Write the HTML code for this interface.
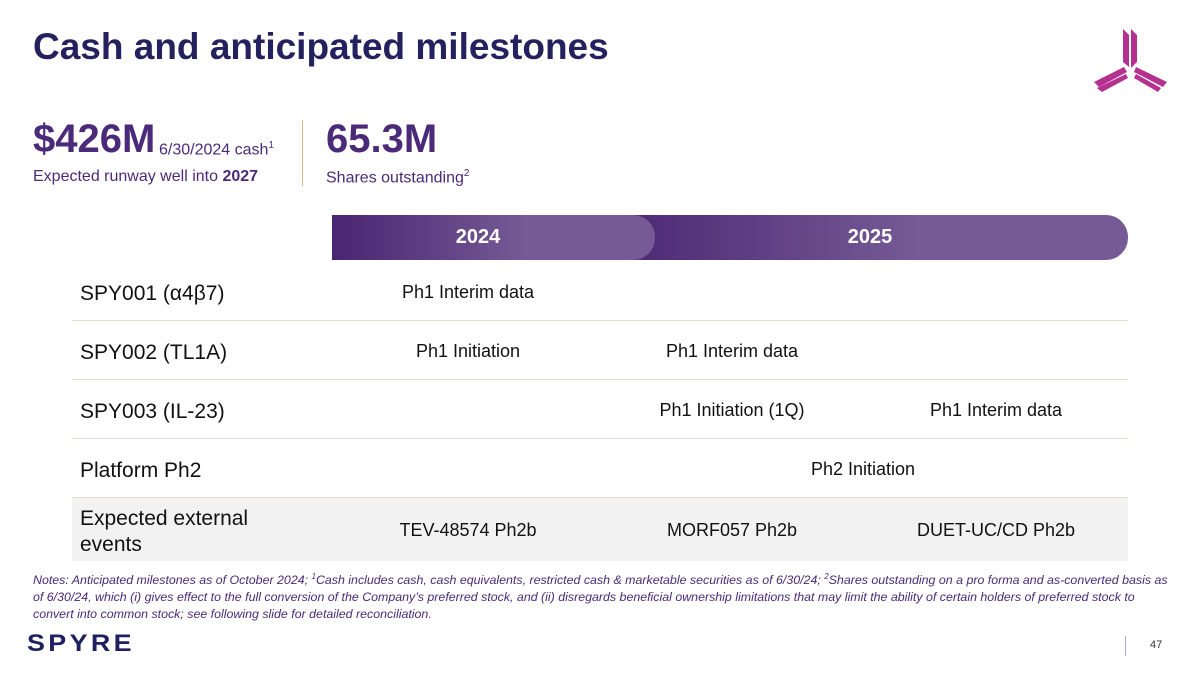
<!DOCTYPE html>
<html><head><meta charset="utf-8"><style>
body{margin:0;width:1200px;height:675px;position:relative;overflow:hidden;background:#fff;font-family:"Liberation Sans",sans-serif;}
.a{position:absolute;white-space:nowrap;}
.lbl{font-size:21px;color:#111;left:80px;}
.c{font-size:18px;color:#111;transform:translateX(-50%);}
.sep{position:absolute;left:72px;width:1056px;height:1px;background:#e6dcc9;}
</style></head><body>
<div class="a" style="left:33px;top:26px;font-size:37px;font-weight:bold;color:#25215e;">Cash and anticipated milestones</div>
<svg class="a" style="left:1090px;top:25px" width="82" height="68" viewBox="0 0 82 68">
<g fill="#b5318f">
<polygon points="33,4 39,10 39,42 33,37"/><polygon points="41,4 47,10 47,37 41,43"/>
<polygon points="4,57 34,42 37,47 9,62"/>
<polygon points="7,63 36,49 38,53 12,67"/>
<polygon points="46,42 77,57 73,62 44,47"/>
<polygon points="44,53 46,49 71,63 68,67"/>
</g></svg>
<div class="a" style="left:33px;top:117px;font-size:40px;font-weight:bold;color:#4a2a79;">$426M</div>
<div class="a" style="left:159px;top:140px;font-size:16px;color:#4a2a79;">6/30/2024 cash<sup style="font-size:10px">1</sup></div>
<div class="a" style="left:33px;top:168px;font-size:16px;color:#4a2a79;">Expected runway well into <b>2027</b></div>
<div class="a" style="left:302px;top:120px;width:1px;height:66px;background:#d9b98a;"></div>
<div class="a" style="left:326px;top:117px;font-size:40px;font-weight:bold;color:#4a2a79;">65.3M</div>
<div class="a" style="left:326px;top:168px;font-size:16px;color:#4a2a79;">Shares outstanding<sup style="font-size:10px">2</sup></div>
<div class="a" style="left:600px;top:215px;width:528px;height:45px;border-radius:0 22px 22px 0;background:linear-gradient(90deg,#4a2572,#755a95 60%);"></div>
<div class="a" style="left:332px;top:215px;width:323px;height:45px;border-radius:0 22px 22px 0;background:linear-gradient(90deg,#4a2572,#755a95 60%);"></div>
<div class="a" style="left:478px;top:226px;font-size:20px;font-weight:bold;color:#fff;transform:translateX(-50%)">2024</div>
<div class="a" style="left:870px;top:226px;font-size:20px;font-weight:bold;color:#fff;transform:translateX(-50%)">2025</div>
<div class="sep" style="top:320px"></div>
<div class="sep" style="top:379px"></div>
<div class="sep" style="top:438px"></div>
<div class="a" style="left:72px;top:497px;width:1056px;height:63px;background:#f2f2f2;border-top:1px solid #e6dcc9;"></div>
<div class="a lbl" style="top:282px">SPY001 (α4β7)</div>
<div class="a c" style="left:468px;top:282px">Ph1 Interim data</div>
<div class="a lbl" style="top:341px">SPY002 (TL1A)</div>
<div class="a c" style="left:468px;top:341px">Ph1 Initiation</div>
<div class="a c" style="left:732px;top:341px">Ph1 Interim data</div>
<div class="a lbl" style="top:400px">SPY003 (IL-23)</div>
<div class="a c" style="left:732px;top:400px">Ph1 Initiation (1Q)</div>
<div class="a c" style="left:996px;top:400px">Ph1 Interim data</div>
<div class="a lbl" style="top:459px">Platform Ph2</div>
<div class="a c" style="left:863px;top:459px">Ph2 Initiation</div>
<div class="a lbl" style="top:506px;line-height:26px">Expected external<br>events</div>
<div class="a c" style="left:468px;top:520px">TEV-48574 Ph2b</div>
<div class="a c" style="left:732px;top:520px">MORF057 Ph2b</div>
<div class="a c" style="left:996px;top:520px">DUET-UC/CD Ph2b</div>
<div class="a" style="left:33px;top:568px;width:1150px;white-space:normal;font-size:12.4px;line-height:17px;font-style:italic;color:#4a2a79;">Notes: Anticipated milestones as of October 2024; <sup style="font-size:8px">1</sup>Cash includes cash, cash equivalents, restricted cash &amp; marketable securities as of 6/30/24; <sup style="font-size:8px">2</sup>Shares outstanding on a pro forma and as-converted basis as<br>of 6/30/24, which (i) gives effect to the full conversion of the Company’s preferred stock, and (ii) disregards beneficial ownership limitations that may limit the ability of certain holders of preferred stock to<br>convert into common stock; see following slide for detailed reconciliation.</div>
<div class="a" style="left:27px;top:630px;font-size:24px;letter-spacing:3px;color:#1f2060;font-weight:bold;transform:scaleX(1.12);transform-origin:left;">SPYRE</div>
<div class="a" style="left:1125px;top:636px;width:1px;height:20px;background:#b8a8cf;"></div>
<div class="a" style="left:1150px;top:639px;font-size:11px;color:#333;">47</div>
</body></html>
